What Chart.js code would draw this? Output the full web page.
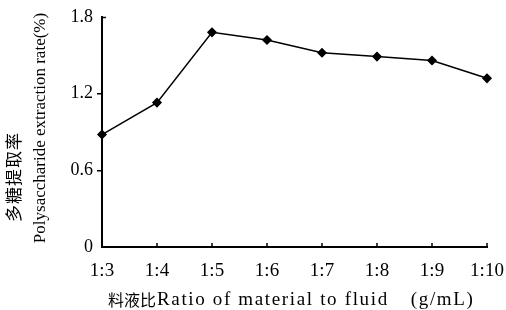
<!DOCTYPE html>
<html><head><meta charset="utf-8">
<script src="https://cdn.jsdelivr.net/npm/chart.js@4"></script>
<style>html,body{margin:0;padding:0;background:#fff}#wrap{width:506px;height:310px}</style>
</head><body><div id="wrap"><canvas id="c" width="506" height="310"></canvas></div>
<script>
const categories = ["1:3","1:4","1:5","1:6","1:7","1:8","1:9","1:10"];
const extractionRate = [0.88, 1.13, 1.68, 1.62, 1.52, 1.49, 1.46, 1.32];
const yTicks = [0, 0.6, 1.2, 1.8];
const yTickLabels = ["0", "0.6", "1.2", "1.8"];
const yTitleCn = "多糖提取率";
const yTitleEn = "Polysaccharide extraction rate(%)";
const xTitleCn = "料液比";
const xTitleEn = "Ratio of material to fluid";
const xTitleUnit = "(g/mL)";

const SERIF = "'Liberation Serif', 'Times New Roman', serif";
const CJK = "'Noto Sans CJK SC', sans-serif";

function setSpacing(ctx, px) { if ('letterSpacing' in ctx) ctx.letterSpacing = px + 'px'; }

const decorations = {
  id: 'decorations',
  afterDraw(chart) {
    const ctx = chart.ctx, xs = chart.scales.x, ys = chart.scales.y, ca = chart.chartArea;
    ctx.save();
    // inward tick marks on the category axis
    ctx.strokeStyle = '#000';
    ctx.lineWidth = 1.5;
    ctx.beginPath();
    for (let i = 1; i < categories.length; i++) {
      const px = xs.getPixelForTick(i);
      ctx.moveTo(px, ca.bottom);
      ctx.lineTo(px, ca.bottom - 4);
    }
    // inward cap tick at the top of the value axis
    const topY = ys.getPixelForValue(yTicks[yTicks.length - 1]);
    ctx.moveTo(ca.left, topY + 0.5);
    ctx.lineTo(ca.left + 4, topY + 0.5);
    ctx.stroke();

    ctx.fillStyle = '#000';
    ctx.textBaseline = 'middle';
    // x-axis title, drawn in three runs
    const ty = ca.bottom + 53;
    let x = ca.left + 6;
    ctx.textAlign = 'left';
    ctx.font = "16px " + CJK;
    setSpacing(ctx, 0);
    ctx.fillText(xTitleCn, x, ty);
    x += ctx.measureText(xTitleCn).width + 1;
    ctx.font = "19px " + SERIF;
    setSpacing(ctx, 1.65);
    ctx.fillText(xTitleEn, x, ty);
    x += ctx.measureText(xTitleEn).width + 22;
    ctx.fillText(xTitleUnit, x, ty);
    setSpacing(ctx, 0);

    // y-axis titles (rotated)
    ctx.textAlign = 'center';
    ctx.save();
    ctx.translate(41, (ca.top + ca.bottom) / 2 - 4);
    ctx.rotate(-Math.PI / 2);
    ctx.font = "17px " + SERIF;
    ctx.fillText(yTitleEn, 0, 0);
    ctx.restore();
    ctx.save();
    ctx.translate(14, 177);
    ctx.rotate(-Math.PI / 2);
    ctx.font = "17px " + CJK;
    setSpacing(ctx, 1);
    ctx.fillText(yTitleCn, 0, 0);
    setSpacing(ctx, 0);
    ctx.restore();
    ctx.restore();
  }
};

new Chart(document.getElementById('c'), {
  type: 'line',
  data: {
    labels: categories,
    datasets: [{
      data: extractionRate,
      borderColor: '#000',
      backgroundColor: '#000',
      borderWidth: 1.5,
      pointStyle: 'rectRot',
      pointRadius: 4,
      pointBackgroundColor: '#000',
      pointBorderColor: '#000',
      tension: 0
    }]
  },
  options: {
    responsive: false,
    animation: false,
    devicePixelRatio: 1,
    layout: { padding: { left: 0, right: 19, top: 17, bottom: 0 } },
    plugins: { legend: { display: false }, tooltip: { enabled: false } },
    scales: {
      x: {
        type: 'category',
        offset: false,
        grid: { display: false, drawTicks: false },
        border: { display: true, color: '#000', width: 2 },
        ticks: { color: '#000', font: { family: SERIF, size: 19 }, padding: 13, maxRotation: 0, autoSkip: false },
        afterFit(scale) { scale.height = 63; scale.paddingLeft = 0; scale.paddingRight = 0; }
      },
      y: {
        min: 0, max: 1.8,
        afterBuildTicks(scale) { scale.ticks = yTicks.map(v => ({ value: v })); },
        grid: {
          display: true, drawOnChartArea: false, drawTicks: true, tickLength: 5, lineWidth: 1.5,
          color: (c) => (c.tick && (c.tick.value === 0 || c.tick.value === 1.8)) ? 'rgba(0,0,0,0)' : '#000'
        },
        border: { display: true, color: '#000', width: 2 },
        ticks: {
          color: '#000', font: { family: SERIF, size: 18 }, padding: 4,
          callback(v) { const i = yTicks.indexOf(v); return i >= 0 ? yTickLabels[i] : ''; }
        },
        afterFit(scale) { scale.width = 102; scale.paddingTop = 0; scale.paddingBottom = 0; }
      }
    }
  },
  plugins: [decorations]
});
</script></body></html>
